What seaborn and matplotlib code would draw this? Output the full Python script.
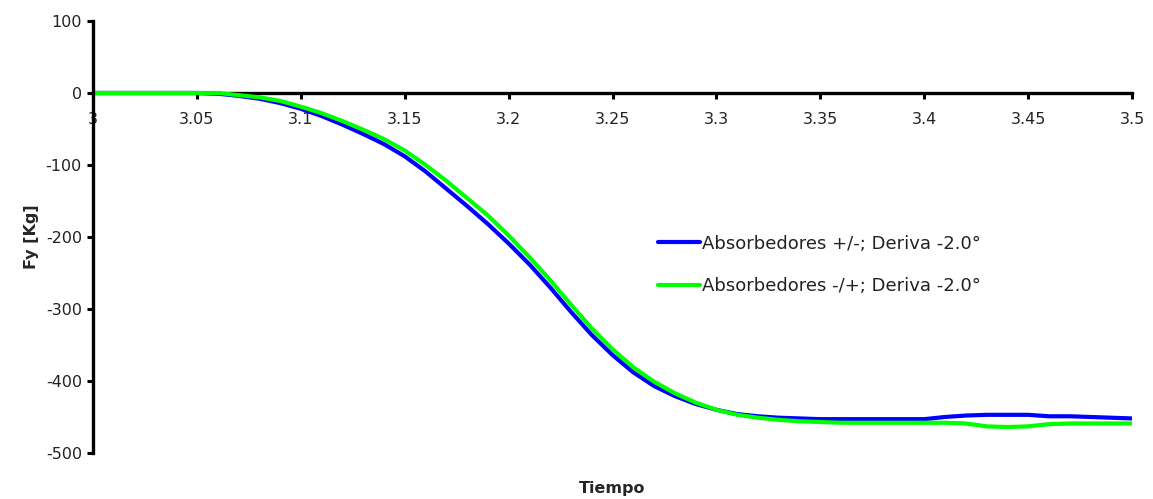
import numpy as np
import pandas as pd
import matplotlib
matplotlib.use("Agg")
import matplotlib.pyplot as plt
import seaborn as sns

time = [3.00, 3.01, 3.02, 3.03, 3.04, 3.05, 3.06, 3.07, 3.08, 3.09,
        3.10, 3.11, 3.12, 3.13, 3.14, 3.15, 3.16, 3.17, 3.18, 3.19,
        3.20, 3.21, 3.22, 3.23, 3.24, 3.25, 3.26, 3.27, 3.28, 3.29,
        3.30, 3.31, 3.32, 3.33, 3.34, 3.35, 3.36, 3.37, 3.38, 3.39,
        3.40, 3.41, 3.42, 3.43, 3.44, 3.45, 3.46, 3.47, 3.48, 3.49, 3.50]

fy_pm = [0, 0, 0, 0, 0, 0, -1, -4, -8, -14,
         -22, -32, -44, -57, -71, -88, -109, -133, -157, -182,
         -209, -238, -270, -304, -336, -364, -388, -407, -421, -432,
         -440, -446, -449, -451, -452, -453, -453, -453, -453, -453,
         -453, -450, -448, -447, -447, -447, -449, -449, -450, -451, -452]

fy_mp = [0, 0, 0, 0, 0, 0, 0, -3, -6, -11,
         -19, -28, -39, -51, -64, -80, -100, -122, -146, -170,
         -198, -228, -260, -294, -327, -356, -381, -401, -417, -430,
         -440, -447, -451, -454, -456, -457, -458, -458, -458, -458,
         -458, -458, -459, -463, -464, -463, -460, -459, -459, -459, -459]

labels = ["Absorbedores +/-; Deriva -2.0°", "Absorbedores -/+; Deriva -2.0°"]
colors = ["#0000FF", "#00FF00"]

xticks = [3.0, 3.05, 3.1, 3.15, 3.2, 3.25, 3.3, 3.35, 3.4, 3.45, 3.5]
xticklabels = ["3", "3.05", "3.1", "3.15", "3.2", "3.25", "3.3", "3.35", "3.4", "3.45", "3.5"]
yticks = [100, 0, -100, -200, -300, -400, -500]

df = pd.DataFrame({
    "Tiempo": time * 2,
    "Fy": fy_pm + fy_mp,
    "Serie": [labels[0]] * len(time) + [labels[1]] * len(time),
})

sns.set_style("white")
plt.rcParams["font.family"] = ["DejaVu Sans"]

fig = plt.figure(figsize=(11.53, 4.99), dpi=100)
ax = fig.add_axes([0.0807, 0.0922, 0.9011, 0.8658])

sns.lineplot(data=df, x="Tiempo", y="Fy", hue="Serie", palette=colors,
             linewidth=3.0, ax=ax, legend=True)

ax.set_xlim(3.0, 3.5)
ax.set_ylim(-500, 100)
ax.set_xticks(xticks)
ax.set_xticklabels(xticklabels)
ax.set_yticks(yticks)
ax.set_yticklabels([str(v) for v in yticks])

for s in ["top", "right"]:
    ax.spines[s].set_visible(False)
ax.spines["bottom"].set_position(("data", 0))
ax.spines["left"].set_linewidth(2.4)
ax.spines["bottom"].set_linewidth(2.4)
ax.spines["left"].set_color("black")
ax.spines["bottom"].set_color("black")
ax.spines["bottom"].set_zorder(1)

ax.tick_params(axis="both", direction="out", length=4, width=2.2,
               colors="black", labelsize=11.5, pad=4, bottom=True, left=True)
ax.tick_params(axis="x", pad=10)
for t in ax.get_xticklabels() + ax.get_yticklabels():
    t.set_color("#222222")

ax.set_xlabel("Tiempo", fontsize=11.5, fontweight="bold")
ax.xaxis.set_label_coords(0.5, -0.065)
ax.set_ylabel("Fy [Kg]", fontsize=11.5, fontweight="bold")
ax.yaxis.set_label_coords(-0.052, 0.5)

leg = ax.legend(loc="upper left", bbox_to_anchor=(0.5438, 0.505), frameon=False,
                fontsize=13, handlelength=2.3, handletextpad=0.16,
                labelspacing=1.35, borderaxespad=0, borderpad=0)
for line in leg.get_lines():
    line.set_linewidth(3.0)
for t in leg.get_texts():
    t.set_color("#222222")

fig.savefig("out.png", dpi=100, facecolor="white")
